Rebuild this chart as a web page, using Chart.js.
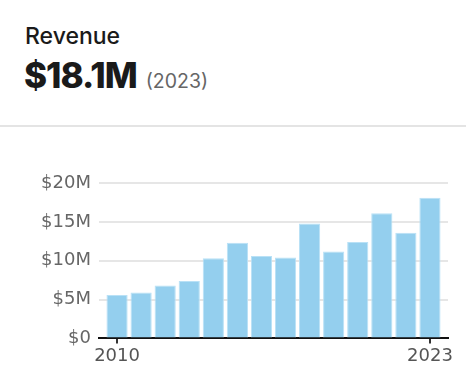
<!DOCTYPE html>
<html>
<head>
<meta charset="utf-8">
<script src="https://cdn.jsdelivr.net/npm/chart.js@4"></script>
<style>
  html, body { margin: 0; padding: 0; background: #fff; }
  body { width: 466px; height: 388px; position: relative; overflow: hidden; font-family: "Inter", "DejaVu Sans", sans-serif; }
  .title { position: absolute; left: 25px; top: 22px; font-size: 23px; font-weight: 500; color: #1a1a1a; }
  .value { position: absolute; left: 24px; top: 54px; white-space: nowrap; }
  .value b { font-size: 35px; font-weight: 800; color: #1a1a1a; letter-spacing: -1px; }
  .value span { font-size: 19.5px; color: #666; margin-left: 9px; }
  .sep { position: absolute; left: 0; top: 125px; width: 466px; height: 2px; background: #e4e4e4; }
  .wrap { position: absolute; left: 0; top: 160px; width: 466px; height: 228px; }
</style>
</head>
<body>
<div class="title">Revenue</div>
<div class="value"><b>$18.1M</b><span>(2023)</span></div>
<div class="sep"></div>
<div class="wrap"><canvas id="revenueChart"></canvas></div>
<script>
// Revenue in $M per year
const years = [2010, 2011, 2012, 2013, 2014, 2015, 2016, 2017, 2018, 2019, 2020, 2021, 2022, 2023];
const revenue = [5.6, 5.9, 6.8, 7.4, 10.3, 12.3, 10.6, 10.4, 14.8, 11.2, 12.4, 16.1, 13.6, 18.1];
const yTicks = [0, 5, 10, 15, 20];
const xTicks = [2010, 2023];

const ctx = document.getElementById('revenueChart');

new Chart(ctx, {
    type: 'bar',
    data: {
        datasets: [{
            label: 'Revenue',
            data: years.map((yr, i) => ({ x: yr, y: revenue[i] })),
            backgroundColor: '#94cfee',
            borderColor: '#b9e1f6',
            borderWidth: 1,
            borderSkipped: 'bottom',
            categoryPercentage: 1,
            barPercentage: 0.88
        }]
    },
    options: {
        responsive: true,
        maintainAspectRatio: false,
        animation: false,
        layout: {
            padding: { left: 0, right: 18, top: 23, bottom: 19 }
        },
        plugins: {
            legend: { display: false },
            tooltip: { enabled: false }
        },
        scales: {
            x: {
                type: 'linear',
                offset: false,
                min: 2009.25,
                max: 2023.75,
                afterBuildTicks: (scale) => {
                    scale.ticks = xTicks.map(v => ({ value: v }));
                },
                ticks: {
                    color: '#555',
                    font: { family: 'DejaVu Sans', size: 18 },
                    padding: 2,
                    maxRotation: 0,
                    callback: (v) => String(v)
                },
                grid: {
                    offset: false,
                    drawOnChartArea: false,
                    drawTicks: true,
                    tickLength: 5,
                    lineWidth: 2,
                    color: '#333'
                },
                border: { display: true, color: '#111', width: 2 }
            },
            y: {
                min: 0,
                max: 20,
                afterBuildTicks: (scale) => {
                    scale.ticks = yTicks.map(v => ({ value: v }));
                },
                afterFit: (scale) => { scale.width = 99; },
                ticks: {
                    color: '#666',
                    font: { family: 'DejaVu Sans', size: 18 },
                    padding: 8,
                    callback: (v) => v === 0 ? '$0' : '$' + v + 'M'
                },
                grid: {
                    drawTicks: false,
                    lineWidth: 2,
                    color: '#e6e6e6'
                },
                border: { display: false }
            }
        }
    }
});
</script>
</body>
</html>
